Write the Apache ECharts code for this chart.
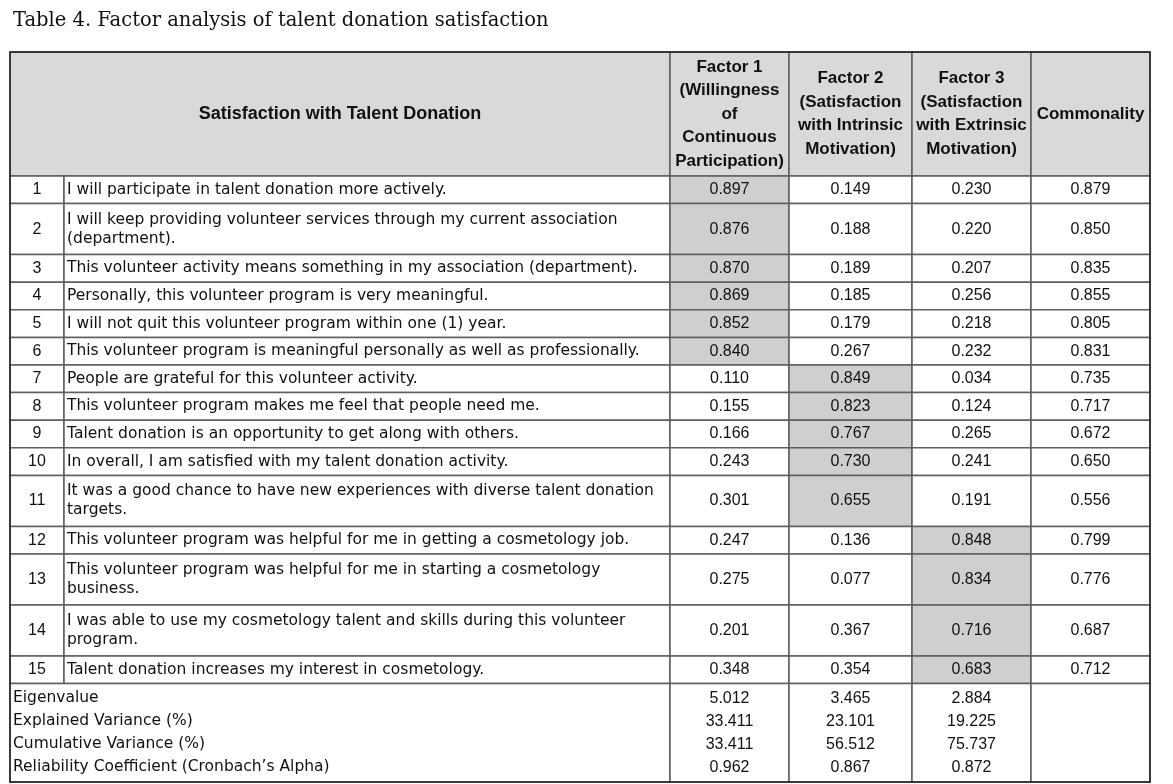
<!DOCTYPE html>
<html><head><meta charset="utf-8">
<script src="https://cdn.jsdelivr.net/npm/echarts@6/dist/echarts.min.js"></script>
<style>html,body{margin:0;padding:0;background:#fff}#c{width:1173px;height:784px}</style>
</head><body><div id="c"></div>
<script>
// ---------- DATA ----------
const titleText = 'Table 4. Factor analysis of talent donation satisfaction';
const headerLabels = [
  'Satisfaction with Talent Donation',
  'Factor 1\n(Willingness\nof\nContinuous\nParticipation)',
  'Factor 2\n(Satisfaction\nwith Intrinsic\nMotivation)',
  'Factor 3\n(Satisfaction\nwith Extrinsic\nMotivation)',
  'Commonality'
];
const itemNos = ['1','2','3','4','5','6','7','8','9','10','11','12','13','14','15'];
const items = [
  'I will participate in talent donation more actively.',
  'I will keep providing volunteer services through my current association\n(department).',
  'This volunteer activity means something in my association (department).',
  'Personally, this volunteer program is very meaningful.',
  'I will not quit this volunteer program within one (1) year.',
  'This volunteer program is meaningful personally as well as professionally.',
  'People are grateful for this volunteer activity.',
  'This volunteer program makes me feel that people need me.',
  'Talent donation is an opportunity to get along with others.',
  'In overall, I am satisfied with my talent donation activity.',
  'It was a good chance to have new experiences with diverse talent donation\ntargets.',
  'This volunteer program was helpful for me in getting a cosmetology job.',
  'This volunteer program was helpful for me in starting a cosmetology\nbusiness.',
  'I was able to use my cosmetology talent and skills during this volunteer\nprogram.',
  'Talent donation increases my interest in cosmetology.'
];
const factor1 = [0.897,0.876,0.870,0.869,0.852,0.840,0.110,0.155,0.166,0.243,0.301,0.247,0.275,0.201,0.348];
const factor2 = [0.149,0.188,0.189,0.185,0.179,0.267,0.849,0.823,0.767,0.730,0.655,0.136,0.077,0.367,0.354];
const factor3 = [0.230,0.220,0.207,0.256,0.218,0.232,0.034,0.124,0.265,0.241,0.191,0.848,0.834,0.716,0.683];
const commonality = [0.879,0.850,0.835,0.855,0.805,0.831,0.735,0.717,0.672,0.650,0.556,0.799,0.776,0.687,0.712];
const summaryLabels = ['Eigenvalue','Explained Variance (%)','Cumulative Variance (%)','Reliability Coefficient (Cronbach\u2019s Alpha)'];
const eigenvalue  = [5.012, 3.465, 2.884];
const explained   = [33.411, 23.101, 19.225];
const cumulative  = [33.411, 56.512, 75.737];
const reliability = [0.962, 0.867, 0.872];

// ---------- LAYOUT / STYLE ----------
const W = 1173, H = 784;
const colEdges = [10, 64, 670, 789, 912, 1031, 1150];
const tableTop = 52, headerBottom = 176;
const singleH = 27.6, doubleH = 51;
const tableBottom = 782;
const numFont = 'Liberation Sans', textFont = 'DejaVu Sans', headFont = 'Liberation Sans';
const headFill = '#d9d9d9', hiFill = '#cfcfcf';
const lineColor = '#5e5e5e';

const rowEdges = [headerBottom];
items.forEach(t => rowEdges.push(rowEdges[rowEdges.length - 1] + (t.indexOf('\n') >= 0 ? doubleH : singleH)));
const summaryTop = rowEdges[rowEdges.length - 1];

const cells = [];
function addCell(x0, x1, y0, y1, text, opt) {
  cells.push(Object.assign({x0, x1, y0, y1, text, fill: '#fff', align: 'center', bold: false,
    lh: 23, pad: 0, font: numFont, size: 16}, opt || {}));
}
// header
addCell(colEdges[0], colEdges[2], tableTop, headerBottom, headerLabels[0], {fill: headFill, bold: true, font: headFont, size: 18});
for (let k = 1; k < headerLabels.length; k++) {
  addCell(colEdges[k + 1], colEdges[k + 2], tableTop, headerBottom, headerLabels[k],
    {fill: headFill, bold: true, lh: 23.5, font: headFont, size: 17});
}
// body rows
const factors = [factor1, factor2, factor3];
items.forEach((t, i) => {
  const y0 = rowEdges[i], y1 = rowEdges[i + 1];
  addCell(colEdges[0], colEdges[1], y0, y1, itemNos[i]);
  addCell(colEdges[1], colEdges[2], y0, y1, t, {align: 'left', pad: 3, lh: 19, font: textFont, size: 15.5});
  const vals = factors.map(f => f[i]);
  const maxIdx = vals.indexOf(Math.max.apply(null, vals));
  vals.forEach((v, k) => addCell(colEdges[k + 2], colEdges[k + 3], y0, y1, v.toFixed(3), {fill: k === maxIdx ? hiFill : '#fff'}));
  addCell(colEdges[5], colEdges[6], y0, y1, commonality[i].toFixed(3));
});
// summary
addCell(colEdges[0], colEdges[2], summaryTop, tableBottom, summaryLabels.join('\n'),
  {align: 'left', pad: 3, lh: 23, font: textFont, size: 15.5});
for (let k = 0; k < 3; k++) {
  const col = [eigenvalue[k], explained[k], cumulative[k], reliability[k]].map(v => v.toFixed(3)).join('\n');
  addCell(colEdges[k + 2], colEdges[k + 3], summaryTop, tableBottom, col, {lh: 23});
}
addCell(colEdges[5], colEdges[6], summaryTop, tableBottom, '');

const chart = echarts.init(document.getElementById('c'), null, {renderer: 'canvas'});
chart.setOption({
  animation: false,
  backgroundColor: '#fff',
  title: {
    text: titleText, left: 8, top: 6,
    textStyle: {fontFamily: 'DejaVu Serif', fontSize: 19.5, fontWeight: 'normal', color: '#111'}
  },
  grid: {left: 0, right: 0, top: 0, bottom: 0},
  xAxis: {type: 'value', min: 0, max: W, show: false},
  yAxis: {type: 'value', min: 0, max: H, inverse: true, show: false},
  series: [{
    type: 'custom',
    coordinateSystem: 'cartesian2d',
    data: cells.map((c, i) => [c.x0, c.y0, i]),
    renderItem: function (params, api) {
      const c = cells[params.dataIndex];
      const p0 = api.coord([c.x0, c.y0]);
      const p1 = api.coord([c.x1, c.y1]);
      const tx = c.align === 'left' ? p0[0] + c.pad : (p0[0] + p1[0]) / 2;
      return {
        type: 'group',
        children: [
          {type: 'rect', shape: {x: p0[0], y: p0[1], width: p1[0] - p0[0], height: p1[1] - p0[1]},
           style: {fill: c.fill, stroke: lineColor, lineWidth: 1.5}},
          {type: 'text', x: tx, y: (p0[1] + p1[1]) / 2,
           style: {text: c.text, fill: '#111', align: c.align, verticalAlign: 'middle',
                   fontFamily: c.font, fontSize: c.size, fontWeight: c.bold ? 'bold' : 'normal', lineHeight: c.lh}}
        ]
      };
    }
  }, {
    type: 'custom',
    coordinateSystem: 'cartesian2d',
    data: [[colEdges[0], tableTop]],
    z: 5,
    renderItem: function (params, api) {
      const p0 = api.coord([colEdges[0], tableTop]);
      const p1 = api.coord([colEdges[colEdges.length - 1], tableBottom]);
      return {type: 'rect', shape: {x: p0[0], y: p0[1], width: p1[0] - p0[0], height: p1[1] - p0[1]},
              style: {fill: 'none', stroke: '#222', lineWidth: 1.5}};
    }
  }]
});
</script></body></html>
